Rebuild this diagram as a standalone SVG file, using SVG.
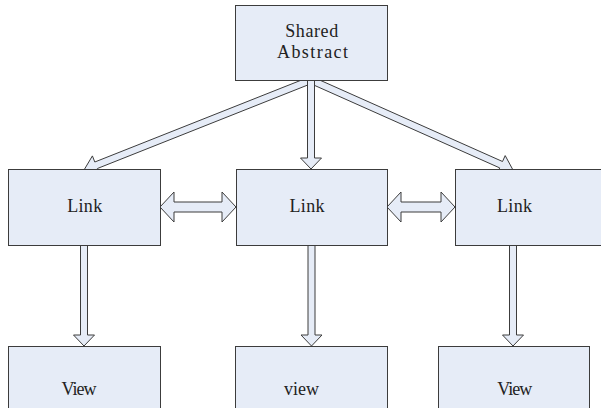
<svg xmlns="http://www.w3.org/2000/svg" width="601" height="408" viewBox="0 0 601 408">
  <style>
    .box { fill: #E6ECF7; stroke: #3C3C3C; stroke-width: 1; }
    .arrow { fill: #E6ECF7; stroke: #3C3C3C; stroke-width: 1; stroke-linejoin: miter; }
    .label { font-family: "Liberation Serif", "DejaVu Serif", serif; font-size: 18px; fill: #222222; text-anchor: middle; }
  </style>
  <rect width="601" height="408" fill="#FFFFFF"/>

  <!-- block arrows -->
  <g id="connectors">
    <!-- Shared Abstract to the three Link boxes -->
    <polygon class="arrow" points="312.3,83.2 97.4,168.5 99.8,174.5 84,170 92.4,155.9 94.8,162 309.7,76.8"/>
    <polygon class="arrow" points="309.6,83.2 499.7,167.9 497.1,173.9 513,170 505.2,155.6 502.5,161.5 312.4,76.8"/>
    <polygon class="arrow" points="307.5,80 307.5,158 300.5,158 311,169 321.5,158 314.5,158 314.5,80"/>
    <!-- Link to Link, both ways -->
    <polygon class="arrow" points="160,207 174,192 174,202 222,202 222,192 236,207 222,222 222,212 174,212 174,222"/>
    <polygon class="arrow" points="387,207 401,192 401,202 441,202 441,192 455,207 441,222 441,212 401,212 401,222"/>
    <!-- Link to View -->
    <polygon class="arrow" points="80.5,245 80.5,335 73.5,335 84,346 94.5,335 87.5,335 87.5,245"/>
    <polygon class="arrow" points="308,245 308,335 301,335 311.5,346 322,335 315,335 315,245"/>
    <polygon class="arrow" points="509.5,245 509.5,335 502.5,335 513,346 523.5,335 516.5,335 516.5,245"/>
  </g>

  <g id="shared-abstract">
    <rect class="box" x="235.5" y="5.5" width="152" height="75"/>
    <text class="label" x="311.7" y="36.5" textLength="53" lengthAdjust="spacing">Shared</text>
    <text class="label" x="312.5" y="58" textLength="71" lengthAdjust="spacing">Abstract</text>
  </g>

  <g id="link-left">
    <rect class="box" x="8.5" y="169.5" width="152" height="76"/>
    <text class="label" x="84.7" y="211.7" textLength="35" lengthAdjust="spacing">Link</text>
  </g>
  <g id="link-middle">
    <rect class="box" x="236.5" y="169.5" width="151" height="76"/>
    <text class="label" x="307" y="211.7" textLength="35" lengthAdjust="spacing">Link</text>
  </g>
  <g id="link-right">
    <rect class="box" x="455.5" y="169.5" width="152" height="76"/>
    <text class="label" x="514.5" y="211.7" textLength="35" lengthAdjust="spacing">Link</text>
  </g>

  <g id="view-left">
    <rect class="box" x="8.5" y="346.5" width="152" height="70"/>
    <text class="label" x="79" y="395" textLength="35" lengthAdjust="spacing">View</text>
  </g>
  <g id="view-middle">
    <rect class="box" x="235.5" y="346.5" width="152" height="70"/>
    <text class="label" x="301.5" y="395" textLength="35" lengthAdjust="spacing">view</text>
  </g>
  <g id="view-right">
    <rect class="box" x="438.5" y="346.5" width="151" height="70"/>
    <text class="label" x="514.8" y="395" textLength="35" lengthAdjust="spacing">View</text>
  </g>
</svg>
